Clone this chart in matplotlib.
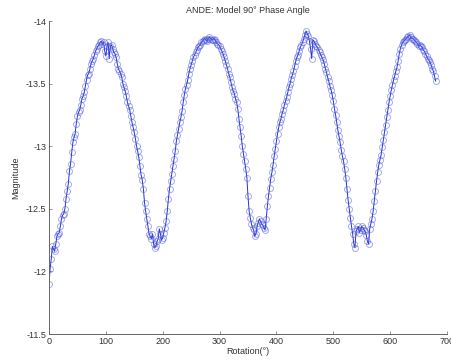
import numpy as np
import matplotlib
matplotlib.use("Agg")
import matplotlib.pyplot as plt

plt.rcParams['font.family'] = ['Liberation Sans', 'DejaVu Sans']

title = "ANDE: Model 90\u00b0 Phase Angle"
x_label = "Rotation(\u00b0)"
y_label = "Magnitude"

x_ticks = [0, 100, 200, 300, 400, 500, 600, 700]
x_tick_labels = ["0", "100", "200", "300", "400", "500", "600", "700"]
y_ticks = [-14, -13.5, -13, -12.5, -12, -11.5]
y_tick_labels = ["-14", "-13.5", "-13", "-12.5", "-12", "-11.5"]

# samples at 0, 4, 8, ... 680 deg
rotation_a = np.arange(0, 684, 4)
magnitude_a = [
    -11.90, -12.10, -12.18, -12.22, -12.30, -12.36, -12.45, -12.50, -12.64, -12.80,
    -12.95, -13.07, -13.18, -13.27, -13.33, -13.40, -13.48, -13.57, -13.62, -13.68,
    -13.73, -13.78, -13.81, -13.84, -13.83, -13.72, -13.83, -13.80, -13.78, -13.74,
    -13.66, -13.60, -13.55, -13.47, -13.40, -13.32, -13.24, -13.15, -13.06, -12.96,
    -12.84, -12.73, -12.55, -12.42, -12.30, -12.26, -12.22, -12.20, -12.26, -12.30,
    -12.27, -12.35, -12.48, -12.66, -12.78, -12.90, -13.04, -13.14, -13.23, -13.35,
    -13.46, -13.53, -13.62, -13.68, -13.73, -13.77, -13.80, -13.83, -13.85, -13.85,
    -13.86, -13.86, -13.85, -13.85, -13.82, -13.80, -13.76, -13.71, -13.65, -13.58,
    -13.51, -13.44, -13.38, -13.30, -13.15, -13.00, -12.88, -12.75, -12.48, -12.38,
    -12.33, -12.30, -12.39, -12.40, -12.37, -12.33, -12.52, -12.67, -12.79, -12.92,
    -13.04, -13.15, -13.22, -13.29, -13.36, -13.43, -13.50, -13.57, -13.64, -13.71,
    -13.76, -13.81, -13.86, -13.92, -13.88, -13.78, -13.85, -13.82, -13.79, -13.75,
    -13.71, -13.66, -13.59, -13.52, -13.45, -13.36, -13.25, -13.13, -13.03, -12.92,
    -12.82, -12.66, -12.50, -12.36, -12.22, -12.32, -12.36, -12.33, -12.35, -12.32,
    -12.24, -12.34, -12.42, -12.56, -12.72, -12.85, -12.93, -13.05, -13.17, -13.29,
    -13.40, -13.49, -13.56, -13.63, -13.74, -13.81, -13.84, -13.86, -13.88, -13.87,
    -13.86, -13.84, -13.82, -13.81, -13.79, -13.76, -13.72, -13.69, -13.65, -13.60,
    -13.52,
]

# samples at 2, 6, 10, ... 678 deg
rotation_b = np.arange(2, 680, 4)
magnitude_b = [
    -12.02, -12.20, -12.16, -12.28, -12.31, -12.42, -12.46, -12.58, -12.70, -12.86,
    -13.03, -13.10, -13.24, -13.29, -13.38, -13.43, -13.53, -13.58, -13.66, -13.70,
    -13.76, -13.80, -13.83, -13.82, -13.76, -13.80, -13.70, -13.81, -13.75, -13.71,
    -13.62, -13.58, -13.50, -13.44, -13.35, -13.29, -13.19, -13.11, -13.00, -12.91,
    -12.77, -12.66, -12.48, -12.36, -12.28, -12.30, -12.19, -12.24, -12.34, -12.25,
    -12.31, -12.40, -12.58, -12.72, -12.84, -12.96, -13.09, -13.19, -13.28, -13.41,
    -13.49, -13.58, -13.65, -13.71, -13.75, -13.79, -13.81, -13.84, -13.86, -13.84,
    -13.87, -13.85, -13.86, -13.83, -13.81, -13.78, -13.74, -13.68, -13.62, -13.55,
    -13.47, -13.42, -13.35, -13.22, -13.08, -12.94, -12.82, -12.60, -12.43, -12.35,
    -12.28, -12.36, -12.42, -12.38, -12.35, -12.42, -12.60, -12.74, -12.85, -12.98,
    -13.10, -13.19, -13.26, -13.33, -13.39, -13.47, -13.54, -13.60, -13.68, -13.73,
    -13.79, -13.83, -13.89, -13.90, -13.84, -13.70, -13.84, -13.80, -13.77, -13.73,
    -13.69, -13.62, -13.55, -13.48, -13.41, -13.30, -13.19, -13.08, -12.97, -12.88,
    -12.75, -12.57, -12.43, -12.30, -12.19, -12.34, -12.31, -12.36, -12.33, -12.29,
    -12.22, -12.38, -12.48, -12.64, -12.79, -12.89, -12.99, -13.11, -13.23, -13.35,
    -13.45, -13.53, -13.60, -13.68, -13.78, -13.83, -13.85, -13.87, -13.89, -13.86,
    -13.85, -13.83, -13.80, -13.80, -13.77, -13.74, -13.70, -13.67, -13.62, -13.56,
]

rot = np.concatenate([rotation_a, rotation_b])
mag = np.concatenate([np.array(magnitude_a), np.array(magnitude_b)])
order = np.argsort(rot, kind='stable')
rot = rot[order]
mag = mag[order]

fig = plt.figure(figsize=(4.51, 3.64), dpi=100)
ax = fig.add_axes([0.1086, 0.0824, 0.8826, 0.8599])

ax.plot(rot, mag, color=(0.15, 0.2, 0.85), linewidth=0.7,
        marker='o', markersize=4.3, markerfacecolor='none',
        markeredgecolor=(0.3, 0.35, 0.85, 0.5), markeredgewidth=0.7)

ax.set_xlim(0, 700)
ax.set_ylim(-11.5, -14)
ax.set_xticks(x_ticks)
ax.set_xticklabels(x_tick_labels)
ax.set_yticks(y_ticks)
ax.set_yticklabels(y_tick_labels)

for s in ['top', 'right']:
    ax.spines[s].set_visible(False)
for s in ['left', 'bottom']:
    ax.spines[s].set_color('#666666')
    ax.spines[s].set_linewidth(0.7)

ax.tick_params(direction='in', length=2.5, width=0.5, colors='#666666',
               labelsize=6.5, labelcolor='#333333', pad=2)

ax.set_title(title, fontsize=6.5, color='#333333', pad=6)
ax.set_xlabel(x_label, fontsize=6.5, color='#333333', labelpad=1)
ax.set_ylabel(y_label, fontsize=6.5, color='#333333', labelpad=4)

fig.savefig("out.png", dpi=100)
